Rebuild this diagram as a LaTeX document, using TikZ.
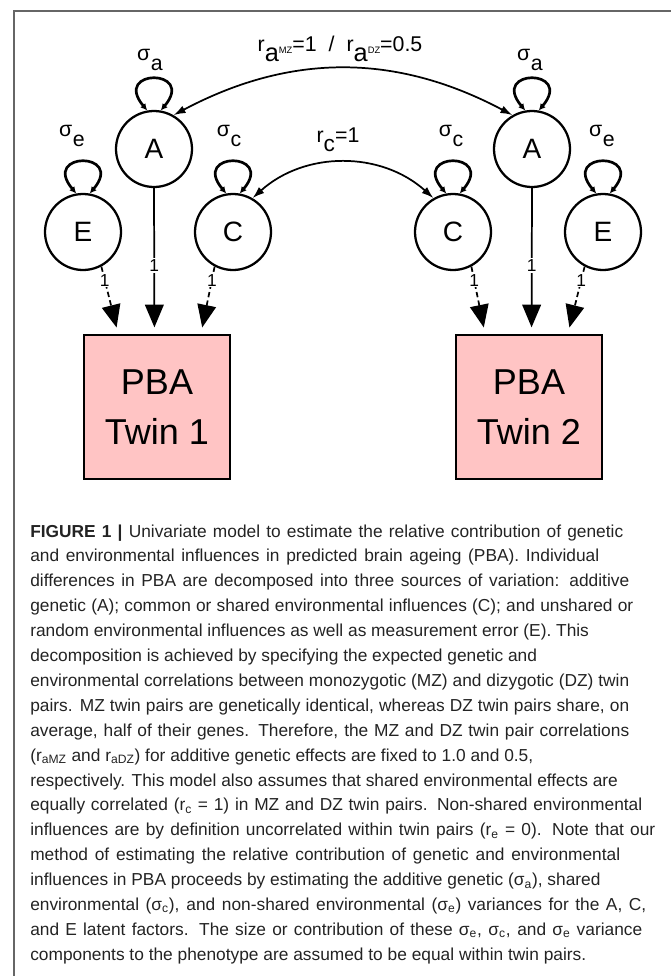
\documentclass[tikz,border=0pt]{standalone}
\usepackage{fontspec}
\setmainfont{Liberation Sans}
\usetikzlibrary{arrows.meta}
\definecolor{pbapink}{RGB}{255,196,196}
\definecolor{captxt}{RGB}{35,35,35}
\newcommand\sigl[1]{σ\kern0.5pt\raisebox{-8pt}{#1}}
\newlength\capw
\newcommand\capfit[2]{\settowidth\capw{#2}\ifdim\capw<#1\relax\makebox[#1][s]{#2}\else #2\fi}
\begin{document}
\begin{tikzpicture}[x=0.75pt,y=0.75pt,
 latent/.style={circle, draw=black, line width=1.7pt, minimum size=57pt, inner sep=0pt, font=\fontsize{21}{21}\selectfont},
 obs/.style={rectangle, draw=black, line width=1.5pt, fill=pbapink, minimum width=109.5pt, minimum height=108pt, inner sep=0pt, align=center, font=\fontsize{27}{37.5}\selectfont},
 varlab/.style={font=\fontsize{16}{16}\selectfont, inner sep=0pt, anchor=base},
 selfloop/.style={line width=2pt, {Latex[length=5pt,width=5pt]}-{Latex[length=5pt,width=5pt]}},
 cov/.style={line width=1.3pt, {Latex[length=9pt,width=6pt]}-{Latex[length=9pt,width=6pt]}},
 pathone/.style={line width=1.3pt, -{Triangle[length=17pt,width=14pt]}, shorten >=5pt},
 dpath/.style={pathone, dash pattern=on 4pt off 2.5pt},
 onelab/.style={fill=white, inner sep=1pt, font=\fontsize{13}{13}\selectfont},
 capline/.style={anchor=base west, inner sep=0pt, text=captxt, font=\fontsize{13}{13}\selectfont},
 figframe/.style={draw=black!60, line width=1.3pt}
]
\useasboundingbox (0,0) rectangle (671,-976);
\draw[figframe] (14,-976) -- (14,-11) -- (671,-11);

% latent factors
\node[latent] (E1) at (83,-232) {E};
\node[latent] (A1) at (154,-149) {A};
\node[latent] (C1) at (233,-232) {C};
\node[latent] (C2) at (453,-232) {C};
\node[latent] (A2) at (532,-149) {A};
\node[latent] (E2) at (603,-232) {E};

% observed
\node[obs] (B1) at (157,-407) {PBA\\Twin 1};
\node[obs] (B2) at (529,-407) {PBA\\Twin 2};

% variance labels
\node[varlab] (sa1) at (150,-60) {\sigl{a}};
\node[varlab] (sa2) at (530,-60) {\sigl{a}};
\node[varlab] (se1) at (72,-136) {\sigl{e}};
\node[varlab] (sc1) at (229,-136) {\sigl{c}};
\node[varlab] (sc2) at (451,-136) {\sigl{c}};
\node[varlab] (se2) at (602,-136) {\sigl{e}};

% correlation labels
\node[inner sep=0pt, anchor=base, font=\fontsize{16}{16}\selectfont] (ra) at (340,-51)
 {r\raisebox{-8pt}{\fontsize{19}{19}\selectfont a}\raisebox{-2pt}{\fontsize{7}{7}\selectfont MZ}=1\hspace{9pt}/\hspace{9pt}r\raisebox{-8pt}{\fontsize{19}{19}\selectfont a}\raisebox{-2pt}{\fontsize{7}{7}\selectfont DZ}=0.5};
\node[inner sep=0pt, anchor=base, font=\fontsize{16}{16}\selectfont] (rc) at (338,-142)
 {r\raisebox{-7pt}{\fontsize{17}{17}\selectfont c}=1};

% self loops
\foreach \n in {E1,A1,C1,C2,A2,E2}{
 \draw[selfloop] (\n.100) .. controls +(130:55) and +(50:55) .. (\n.80);
}

% covariances
\draw[cov] (A1.60) to[bend left=28] (A2.120);
\draw[cov] (C1.60) to[bend left=42] (C2.120);

% paths
\draw[dpath] (E1.-62) -- (B1.118) node[onelab, pos=0.2] {1};
\draw[pathone] (A1.south) -- (B1.92) node[onelab, pos=0.53] {1};
\draw[dpath] (C1.-118) -- (B1.59) node[onelab, pos=0.2] {1};
\draw[dpath] (C2.-62) -- (B2.121) node[onelab, pos=0.2] {1};
\draw[pathone] (A2.south) -- (B2.88) node[onelab, pos=0.53] {1};
\draw[dpath] (E2.-118) -- (B2.62) node[onelab, pos=0.2] {1};

% caption
\node[capline] (cap1) at (30,-537) {\capfit{444.75pt}{\textbf{FIGURE 1 |} Univariate model to estimate the relative contribution of genetic}};
\node[capline] (cap2) at (30,-561.9) {\capfit{426.75pt}{and environmental influences in predicted brain ageing (PBA). Individual}};
\node[capline] (cap3) at (30,-586.8) {\capfit{449.25pt}{differences in PBA are decomposed into three sources of variation: additive}};
\node[capline] (cap4) at (30,-611.7) {\capfit{452.25pt}{genetic (A); common or shared environmental influences (C); and unshared or}};
\node[capline] (cap5) at (30,-636.6) {\capfit{404.25pt}{random environmental influences as well as measurement error (E). This}};
\node[capline] (cap6) at (30,-661.5) {\capfit{335.25pt}{decomposition is achieved by specifying the expected genetic and}};
\node[capline] (cap7) at (30,-686.4) {\capfit{449.25pt}{environmental correlations between monozygotic (MZ) and dizygotic (DZ) twin}};
\node[capline] (cap8) at (30,-711.3) {\capfit{449.25pt}{pairs. MZ twin pairs are genetically identical, whereas DZ twin pairs share, on}};
\node[capline] (cap9) at (30,-736.2) {\capfit{449.25pt}{average, half of their genes. Therefore, the MZ and DZ twin pair correlations}};
\node[capline] (cap10) at (30,-761.1) {\capfit{369pt}{(r\textsubscript{aMZ} and r\textsubscript{aDZ}) for additive genetic effects are fixed to 1.0 and 0.5,}};
\node[capline] (cap11) at (30,-786) {\capfit{439.5pt}{respectively. This model also assumes that shared environmental effects are}};
\node[capline] (cap12) at (30,-810.9) {\capfit{459pt}{equally correlated (r\textsubscript{c} = 1) in MZ and DZ twin pairs. Non-shared environmental}};
\node[capline] (cap13) at (30,-835.8) {\capfit{468.75pt}{influences are by definition uncorrelated within twin pairs (r\textsubscript{e} = 0). Note that our}};
\node[capline] (cap14) at (30,-860.7) {\capfit{442.5pt}{method of estimating the relative contribution of genetic and environmental}};
\node[capline] (cap15) at (30,-885.6) {\capfit{418.5pt}{influences in PBA proceeds by estimating the additive genetic (σ\textsubscript{a}), shared}};
\node[capline] (cap16) at (30,-910.5) {\capfit{462pt}{environmental (σ\textsubscript{c}), and non-shared environmental (σ\textsubscript{e}) variances for the A, C,}};
\node[capline] (cap17) at (30,-935.4) {\capfit{459pt}{and E latent factors. The size or contribution of these σ\textsubscript{e}, σ\textsubscript{c}, and σ\textsubscript{e} variance}};
\node[capline] (cap18) at (30,-960.3) {\capfit{414pt}{components to the phenotype are assumed to be equal within twin pairs.}};
\end{tikzpicture}
\end{document}
